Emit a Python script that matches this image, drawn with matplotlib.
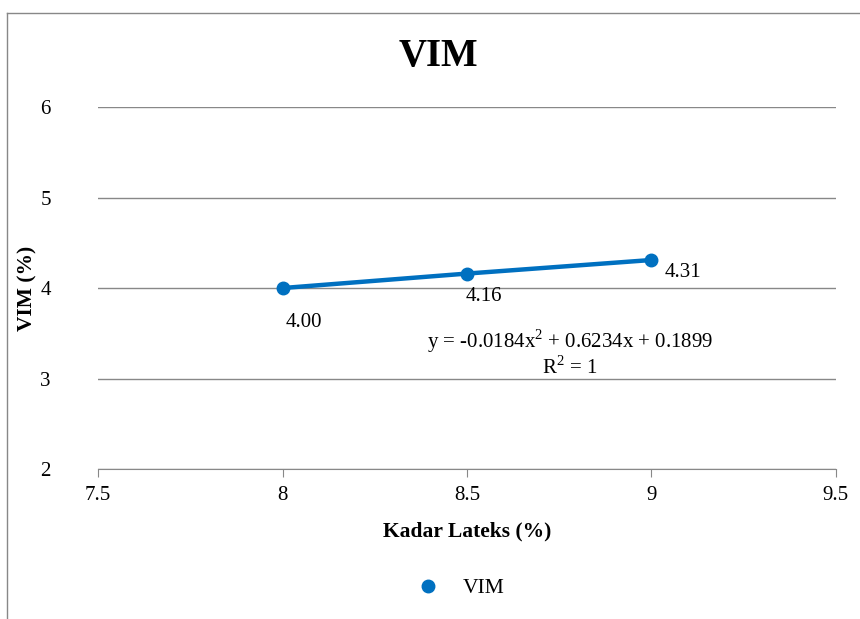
import numpy as np
import matplotlib
matplotlib.use("Agg")
import matplotlib.pyplot as plt
from matplotlib.lines import Line2D

# data
kadar_lateks = [8.0, 8.5, 9.0]
vim = [4.00, 4.16, 4.31]
point_labels = ["4.00", "4.16", "4.31"]
label_offsets = [(21, -34), (17, -23), (31, -12)]  # pixels
equation = "y = -0.0184x$^2$ + 0.6234x + 0.1899"
r_squared = "R$^2$ = 1"

blue = "#0070C0"
plt.rcParams["font.family"] = ["Liberation Serif", "DejaVu Serif"]
plt.rcParams["mathtext.fontset"] = "custom"
plt.rcParams["mathtext.rm"] = "Liberation Serif"

fig = plt.figure(figsize=(8.6, 6.19), dpi=100)
ax = fig.add_axes([0.114, 0.2423, 0.858, 0.5847])

ax.plot(kadar_lateks, vim, color=blue, linewidth=3.2, marker="o",
        markersize=9, zorder=3)

for x, y, lab, off in zip(kadar_lateks, vim, point_labels, label_offsets):
    ax.annotate(lab, (x, y), xytext=off, textcoords="offset pixels",
                ha="center", va="center", fontsize=15)

ax.text(8.779, 3.414, equation, ha="center", va="center", fontsize=15)
ax.text(8.779, 3.127, r_squared, ha="center", va="center", fontsize=15)

ax.set_xlim(7.5, 9.5)
ax.set_ylim(2, 6)
ax.set_xticks([7.5, 8, 8.5, 9, 9.5])
ax.set_xticklabels(["7.5", "8", "8.5", "9", "9.5"])
ax.set_yticks([2, 3, 4, 5, 6])
ax.tick_params(axis="x", labelsize=15, length=6, color="#888888", pad=6)
ax.tick_params(axis="y", labelsize=15, length=0, pad=34)
ax.grid(axis="y", color="#888888", linewidth=1)
ax.set_axisbelow(True)
for s in ["top", "right", "left"]:
    ax.spines[s].set_visible(False)
ax.spines["bottom"].set_color("#888888")

ax.set_xlabel("Kadar Lateks (%)", fontsize=15.5, fontweight="bold", labelpad=12)
ax.set_ylabel("VIM (%)", fontsize=15.5, fontweight="bold", labelpad=2)
fig.text(0.51, 0.908, "VIM", ha="center", va="center", fontsize=28,
         fontweight="bold")

handle = Line2D([], [], color=blue, marker="o", linestyle="none", markersize=9)
fig.legend([handle], ["VIM"], loc="center", bbox_to_anchor=(0.53, 0.05),
           frameon=False, fontsize=15.5, handletextpad=0.6)

# outer chart border (partly cropped in the original)
fig.add_artist(Line2D([0.008, 1.0], [0.979, 0.979], color="#888888", linewidth=1))
fig.add_artist(Line2D([0.008, 0.008], [0.0, 0.979], color="#888888", linewidth=1))

fig.savefig("out.png", dpi=100)
